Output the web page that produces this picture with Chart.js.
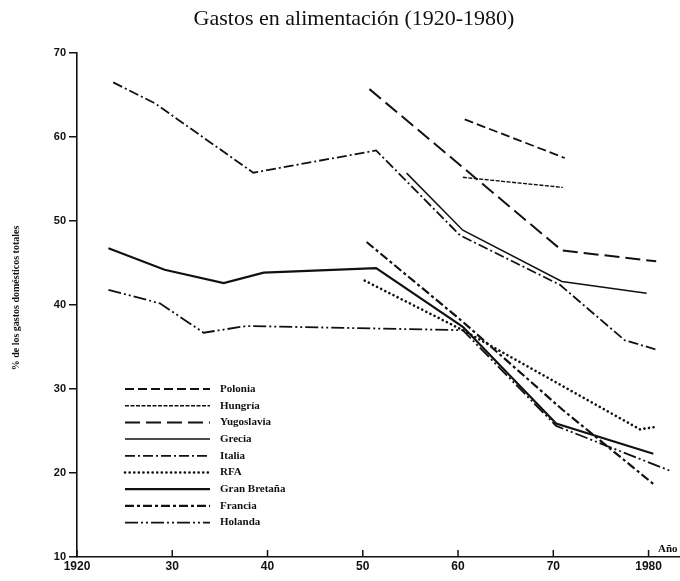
<!DOCTYPE html>
<html>
<head>
<meta charset="utf-8">
<script src="https://cdn.jsdelivr.net/npm/chart.js@4/dist/chart.umd.min.js"></script>
<style>
html,body{margin:0;padding:0;background:#fff;}
#wrap{width:680px;height:581px;}
</style>
</head>
<body>
<div id="wrap"><canvas id="c" width="680" height="581"></canvas></div>
<script>
// ---- data ----
const titleText = 'Gastos en alimentación (1920-1980)';
const yTitleText = '% de los gastos domésticos totales';
const xUnitText = 'Año';
const tickYears = [1920, 1930, 1940, 1950, 1960, 1970, 1980];
const tickYearLabels = ['1920', '30', '40', '50', '60', '70', '1980'];
const yTicks = [10, 20, 30, 40, 50, 60, 70];

const seriesNames = ['Polonia', 'Hungría', 'Yugoslavia', 'Grecia', 'Italia', 'RFA', 'Gran Bretaña', 'Francia', 'Holanda'];

const poloniaYears = [1960.7, 1971.2];
const poloniaValues = [62.1, 57.5];
const hungriaYears = [1960.5, 1971.0];
const hungriaValues = [55.2, 54.0];
const yugoslaviaYears = [1950.7, 1970.9, 1980.8];
const yugoslaviaValues = [65.7, 46.5, 45.2];
const greciaYears = [1954.6, 1960.5, 1970.9, 1979.8];
const greciaValues = [55.7, 48.9, 42.8, 41.4];
const italiaYears = [1923.8, 1928.2, 1938.5, 1951.4, 1960.2, 1970.7, 1977.5, 1980.8];
const italiaValues = [66.5, 64.0, 55.75, 58.4, 48.3, 42.4, 35.8, 34.7];
const rfaYears = [1950.2, 1960.5, 1979.1, 1980.8];
const rfaValues = [42.9, 37.0, 25.2, 25.5];
const granBretanaYears = [1923.3, 1929.2, 1935.4, 1939.6, 1951.4, 1960.5, 1970.3, 1980.5];
const granBretanaValues = [46.75, 44.2, 42.6, 43.85, 44.4, 37.4, 25.9, 22.3];
const franciaYears = [1950.4, 1960.5, 1971.0, 1980.5];
const franciaValues = [47.5, 38.0, 27.5, 18.7];
const holandaYears = [1923.3, 1928.7, 1933.3, 1937.8, 1960.5, 1970.3, 1982.4];
const holandaValues = [41.8, 40.2, 36.7, 37.5, 37.0, 25.6, 20.2];

// ---- styles ----
const lineStyles = [
  {dash: [9, 4], width: 1.8, cap: 'butt'},          // Polonia
  {dash: [4, 1.5], width: 1.4, cap: 'butt'},        // Hungría
  {dash: [15, 6], width: 2.0, cap: 'butt'},         // Yugoslavia
  {dash: [], width: 1.5, cap: 'butt'},              // Grecia
  {dash: [10, 3, 2, 3], width: 1.8, cap: 'butt'},   // Italia
  {dash: [0.1, 4.5], width: 2.6, cap: 'round'},     // RFA
  {dash: [], width: 2.2, cap: 'butt'},              // Gran Bretaña
  {dash: [9, 3, 3, 3], width: 2.2, cap: 'butt'},    // Francia
  {dash: [13, 3, 2, 3, 2, 3], width: 1.8, cap: 'butt'} // Holanda
];

function pts(xs, ys) { return xs.map((v, i) => ({x: v, y: ys[i]})); }
const seriesData = [
  pts(poloniaYears, poloniaValues),
  pts(hungriaYears, hungriaValues),
  pts(yugoslaviaYears, yugoslaviaValues),
  pts(greciaYears, greciaValues),
  pts(italiaYears, italiaValues),
  pts(rfaYears, rfaValues),
  pts(granBretanaYears, granBretanaValues),
  pts(franciaYears, franciaValues),
  pts(holandaYears, holandaValues)
];

const datasets = seriesNames.map((name, i) => ({
  label: name,
  data: seriesData[i],
  borderColor: '#111',
  borderWidth: lineStyles[i].width,
  borderDash: lineStyles[i].dash,
  borderCapStyle: lineStyles[i].cap,
  borderJoinStyle: 'miter',
  pointRadius: 0,
  fill: false,
  tension: 0
}));

const decor = {
  id: 'decor',
  afterDraw(chart) {
    const ctx = chart.ctx;
    const x = chart.scales.x, y = chart.scales.y;
    ctx.save();
    ctx.strokeStyle = '#111';
    ctx.fillStyle = '#111';
    // inward x ticks
    ctx.lineWidth = 1.5;
    tickYears.forEach(v => {
      const px = x.getPixelForValue(v);
      ctx.beginPath();
      ctx.moveTo(px, y.bottom);
      ctx.lineTo(px, y.bottom - 7);
      ctx.stroke();
    });
    // title
    ctx.font = '22px "Liberation Serif"';
    ctx.textAlign = 'center';
    ctx.textBaseline = 'middle';
    ctx.fillText(titleText, 354, 19);
    // y title
    ctx.save();
    ctx.translate(16, 298);
    ctx.rotate(-Math.PI / 2);
    ctx.font = 'bold 10px "Liberation Serif"';
    ctx.fillText(yTitleText, 0, 0);
    ctx.restore();
    // x unit
    ctx.textAlign = 'left';
    ctx.font = 'bold 11px "Liberation Serif"';
    ctx.fillText(xUnitText, 658, 549);
    // legend
    chart.data.datasets.forEach((ds, i) => {
      const yy = 389 + i * 16.7;
      ctx.setLineDash(ds.borderDash || []);
      ctx.lineWidth = ds.borderWidth;
      ctx.lineCap = ds.borderCapStyle || 'butt';
      ctx.beginPath();
      ctx.moveTo(125, yy);
      ctx.lineTo(210, yy);
      ctx.stroke();
      ctx.setLineDash([]);
      ctx.lineCap = 'butt';
      ctx.font = 'bold 11px "Liberation Serif"';
      ctx.fillText(ds.label, 220, yy);
    });
    ctx.restore();
  }
};

new Chart(document.getElementById('c'), {
  type: 'line',
  data: {datasets},
  options: {
    responsive: false,
    animation: false,
    layout: {padding: {top: 53, left: 0, right: 0, bottom: 0}},
    plugins: {legend: {display: false}, tooltip: {enabled: false}, title: {display: false}},
    scales: {
      x: {
        type: 'linear',
        min: 1920,
        max: 1983.3,
        afterFit(s) { s.height = 24; },
        afterBuildTicks(s) { s.ticks = tickYears.map(v => ({value: v})); },
        grid: {display: false, drawTicks: false},
        border: {display: true, color: '#111', width: 1.6},
        ticks: {
          color: '#111',
          padding: 2,
          maxRotation: 0,
          autoSkip: false,
          font: {family: '"Liberation Sans"', size: 12, weight: 'bold'},
          callback: (v) => { const k = tickYears.indexOf(v); return k >= 0 ? tickYearLabels[k] : ''; }
        }
      },
      y: {
        type: 'linear',
        min: 10,
        max: 70,
        afterFit(s) { s.width = 77; },
        afterBuildTicks(s) { s.ticks = yTicks.map(v => ({value: v})); },
        grid: {display: true, drawOnChartArea: false, drawTicks: true, tickLength: 8, color: '#111', lineWidth: 1.5},
        border: {display: true, color: '#111', width: 1.6},
        ticks: {
          color: '#111',
          padding: 3,
          font: {family: '"Liberation Sans"', size: 11, weight: 'bold'}
        }
      }
    }
  },
  plugins: [decor]
});
</script>
</body>
</html>
